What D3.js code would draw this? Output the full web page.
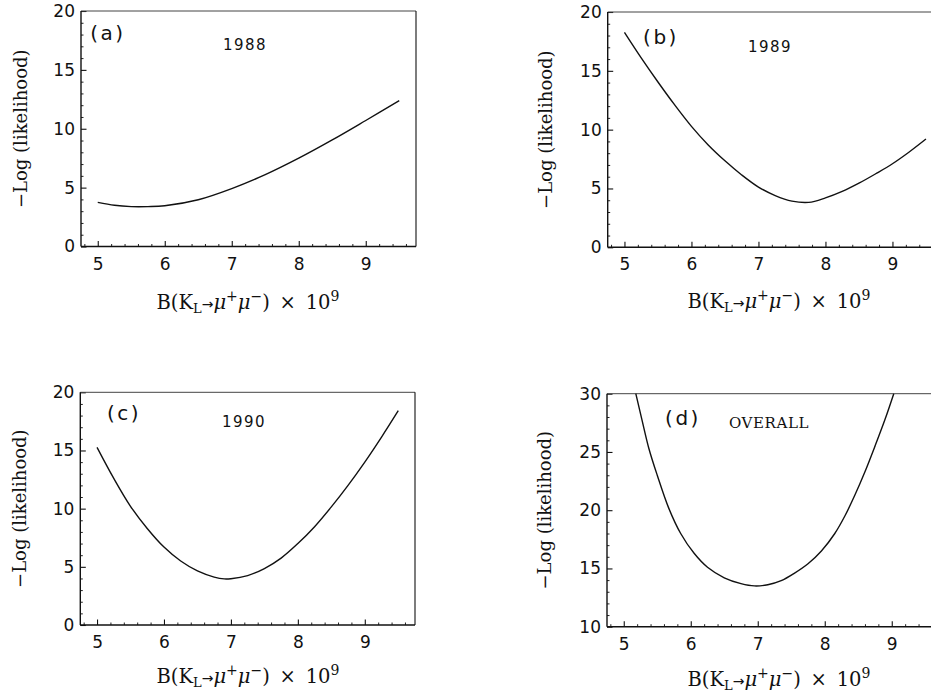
<!DOCTYPE html>
<html>
<head>
<meta charset="utf-8">
<script src="https://cdn.jsdelivr.net/npm/d3@7"></script>
<style>
  html, body { margin: 0; padding: 0; background: #fff; }
  svg { display: block; }
  .tick text { font-family: "DejaVu Sans", sans-serif; font-size: 17px; fill: #111; }
</style>
</head>
<body>
<svg id="chart" width="931" height="692"></svg>
<script>
// Branching ratio B(K_L -> mu+ mu-) x 10^9 and the negative log-likelihood per data set
const b1988   = [5.0, 5.25, 5.5, 5.75, 6.0, 6.5, 7.0, 7.5, 8.0, 8.5, 9.0, 9.5];
const nll1988 = [3.75, 3.5, 3.39, 3.39, 3.46, 3.97, 4.92, 6.1, 7.5, 9.05, 10.7, 12.38];

const b1989   = [5.0, 5.25, 5.5, 5.75, 6.0, 6.25, 6.5, 6.75, 7.0, 7.25, 7.5, 7.75, 8.0, 8.25, 8.5, 8.75, 9.0, 9.25, 9.5];
const nll1989 = [18.27, 16.1, 14.05, 12.1, 10.28, 8.7, 7.35, 6.15, 5.12, 4.4, 3.93, 3.82, 4.2, 4.75, 5.45, 6.25, 7.1, 8.1, 9.2];

const b1990   = [5.0, 5.25, 5.5, 5.75, 6.0, 6.25, 6.5, 6.75, 6.9, 7.0, 7.25, 7.5, 7.75, 8.0, 8.25, 8.5, 8.75, 9.0, 9.25, 9.5];
const nll1990 = [15.27, 12.6, 10.2, 8.3, 6.7, 5.5, 4.65, 4.12, 3.96, 3.98, 4.25, 4.85, 5.75, 7.0, 8.45, 10.15, 12.0, 14.0, 16.15, 18.42];

const bOverall   = [5.18, 5.27, 5.375, 5.5, 5.67, 5.85, 6.05, 6.25, 6.5, 6.75, 6.95, 7.15, 7.35, 7.55, 7.75, 7.95, 8.15, 8.3, 8.45, 8.6, 8.75, 8.9, 9.03];
const nllOverall = [30.0, 27.8, 25.3, 23.0, 20.2, 18.0, 16.3, 15.1, 14.2, 13.7, 13.5, 13.6, 13.95, 14.6, 15.4, 16.5, 18.0, 19.5, 21.3, 23.3, 25.5, 27.8, 30.0];

const xTickValues = [5, 6, 7, 8, 9];
const yTicksLow   = [0, 5, 10, 15, 20];
const yTicksHigh  = [10, 15, 20, 25, 30];

const panelTags   = ["(a)", "(b)", "(c)", "(d)"];
const panelTitles = ["1988", "1989", "1990", "OVERALL"];

const svg = d3.select("#chart");

const panels = [
  { xs: b1988, ys: nll1988, tag: panelTags[0], title: panelTitles[0], yDomain: [0, 20], yTicks: yTicksLow,
    left: 81, top: 11, right: 416, bottom: 246.5,
    tagPos: [108, 33], titlePos: [245, 45], titleSerif: false, ylabX: 21, xlabDy: 62, xlabX: 248 },
  { xs: b1989, ys: nll1989, tag: panelTags[1], title: panelTitles[1], yDomain: [0, 20], yTicks: yTicksLow,
    left: 607.7, top: 12, right: 942.7, bottom: 247.3,
    tagPos: [661, 37], titlePos: [770, 47], titleSerif: false, ylabX: 546, xlabDy: 61, xlabX: 779 },
  { xs: b1990, ys: nll1990, tag: panelTags[2], title: panelTitles[2], yDomain: [0, 20], yTicks: yTicksLow,
    left: 80.3, top: 392.3, right: 415, bottom: 625,
    tagPos: [124, 413], titlePos: [244, 422], titleSerif: false, ylabX: 20, xlabDy: 58, xlabX: 248 },
  { xs: bOverall, ys: nllOverall, tag: panelTags[3], title: panelTitles[3], yDomain: [10, 30], yTicks: yTicksHigh,
    left: 607, top: 393.7, right: 942, bottom: 626.7,
    tagPos: [683, 418], titlePos: [769, 423], titleSerif: true, ylabX: 545, xlabDy: 59, xlabX: 779 }
];

panels.forEach(p => {
  const x = d3.scaleLinear().domain([4.75, 9.75]).range([p.left, p.right]);
  const y = d3.scaleLinear().domain(p.yDomain).range([p.bottom, p.top]);
  const g = svg.append("g");

  // minor ticks every 0.2 on x and every 1 on y, pointing inward
  const xMinor = d3.range(4.8, 9.75, 0.2).filter(v => Math.abs(v - Math.round(v)) > 0.01);
  const yMinor = d3.range(p.yDomain[0] + 1, p.yDomain[1], 1).filter(v => v % 5 !== 0);

  g.append("g")
    .attr("transform", `translate(0,${p.bottom})`)
    .call(d3.axisBottom(x).tickValues(xMinor).tickSize(-2.5).tickFormat(""))
    .call(a => a.select(".domain").remove())
    .call(a => a.selectAll("line").attr("stroke", "#222").attr("stroke-width", 1));

  g.append("g")
    .attr("transform", `translate(${p.left},0)`)
    .call(d3.axisLeft(y).tickValues(yMinor).tickSize(-2.5).tickFormat(""))
    .call(a => a.select(".domain").remove())
    .call(a => a.selectAll("line").attr("stroke", "#222").attr("stroke-width", 1));

  // major ticks with labels
  g.append("g")
    .attr("transform", `translate(0,${p.bottom})`)
    .call(d3.axisBottom(x).tickValues(xTickValues).tickSize(-5.5).tickPadding(11).tickFormat(d3.format("d")))
    .call(a => a.select(".domain").remove())
    .call(a => a.selectAll("line").attr("stroke", "#111").attr("stroke-width", 1.1));

  g.append("g")
    .attr("transform", `translate(${p.left},0)`)
    .call(d3.axisLeft(y).tickValues(p.yTicks).tickSize(-5.5).tickPadding(6).tickFormat(d3.format("d")))
    .call(a => a.select(".domain").remove())
    .call(a => a.selectAll("line").attr("stroke", "#111").attr("stroke-width", 1.1));

  // frame
  g.append("line").attr("x1", p.left).attr("x2", p.right).attr("y1", p.top).attr("y2", p.top)
    .attr("stroke", "#444").attr("stroke-width", 1);
  g.append("line").attr("x1", p.right).attr("x2", p.right).attr("y1", p.top).attr("y2", p.bottom)
    .attr("stroke", "#111").attr("stroke-width", 1.1);
  g.append("line").attr("x1", p.left).attr("x2", p.right).attr("y1", p.bottom).attr("y2", p.bottom)
    .attr("stroke", "#111").attr("stroke-width", 1.4);
  g.append("line").attr("x1", p.left).attr("x2", p.left).attr("y1", p.top).attr("y2", p.bottom)
    .attr("stroke", "#111").attr("stroke-width", 1.4);

  // likelihood curve
  const pts = p.xs.map((v, i) => [v, p.ys[i]]);
  g.append("path")
    .datum(pts)
    .attr("fill", "none")
    .attr("stroke", "#111")
    .attr("stroke-width", 1.4)
    .attr("d", d3.line().x(d => x(d[0])).y(d => y(d[1])).curve(d3.curveCatmullRom.alpha(0.5)));

  // panel tag and title
  g.append("text")
    .attr("x", p.tagPos[0]).attr("y", p.tagPos[1]).attr("dy", "0.36em")
    .attr("text-anchor", "middle")
    .style("font-family", "'DejaVu Sans', sans-serif").style("font-size", "20px")
    .style("letter-spacing", "2.5px").attr("fill", "#111")
    .text(p.tag);

  g.append("text")
    .attr("x", p.titlePos[0]).attr("y", p.titlePos[1]).attr("dy", "0.36em")
    .attr("text-anchor", "middle")
    .style("font-family", p.titleSerif ? "'DejaVu Serif', serif" : "'DejaVu Sans', sans-serif")
    .style("font-size", "15px")
    .style("letter-spacing", p.titleSerif ? "0.6px" : "1.5px")
    .attr("fill", "#111")
    .text(p.title);

  // y-axis title
  g.append("text")
    .attr("transform", `translate(${p.ylabX},${(p.top + p.bottom) / 2}) rotate(-90)`)
    .attr("dy", "0.35em")
    .attr("text-anchor", "middle")
    .style("font-family", "'DejaVu Serif', serif").style("font-size", "18px")
    .attr("fill", "#111")
    .text("\u2212Log (likelihood)");

  // x-axis title: B(K_L -> mu+ mu-) x 10^9
  const xl = g.append("text")
    .attr("x", p.xlabX)
    .attr("y", p.bottom + p.xlabDy)
    .attr("text-anchor", "middle")
    .style("font-family", "'DejaVu Serif', serif").style("font-size", "19.5px")
    .attr("fill", "#111");
  xl.append("tspan").text("B(K");
  xl.append("tspan").attr("dy", 4).style("font-size", "13px").text("L");
  xl.append("tspan").attr("dy", -4).style("font-family", "'DejaVu Sans', sans-serif").style("font-size", "14px").text("\u2192");
  xl.append("tspan").style("font-style", "italic").text("\u03bc");
  xl.append("tspan").attr("dy", -8).style("font-size", "14px").text("+");
  xl.append("tspan").attr("dy", 8).style("font-style", "italic").text("\u03bc");
  xl.append("tspan").attr("dy", -8).style("font-size", "14px").text("\u2212");
  xl.append("tspan").attr("dy", 8).text(")\u2002\u00d7\u200210");
  xl.append("tspan").attr("dy", -8).style("font-size", "14px").text("9");
});
</script>
</body>
</html>
